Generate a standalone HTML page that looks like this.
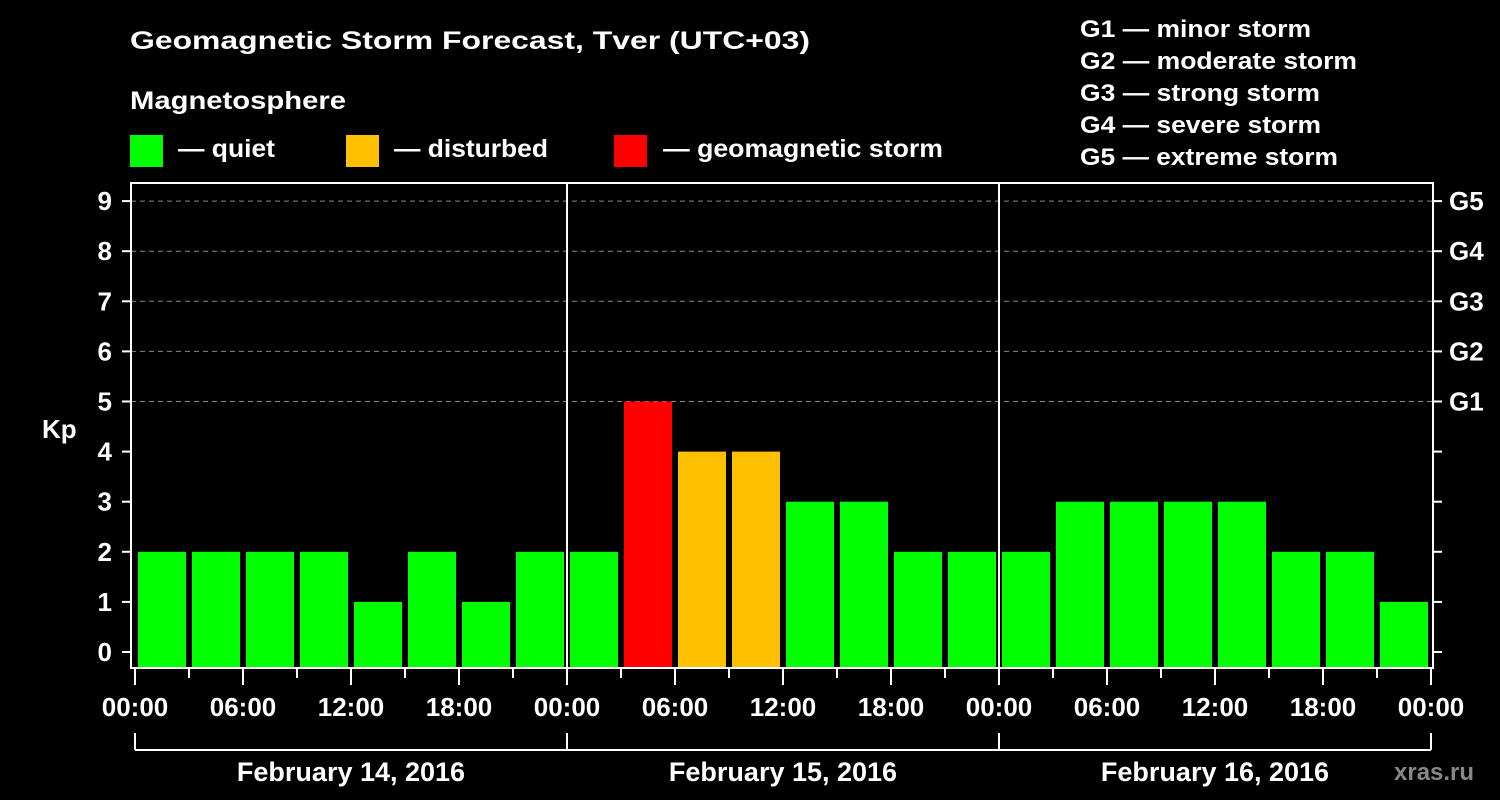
<!DOCTYPE html>
<html><head><meta charset="utf-8"><style>
html,body{margin:0;padding:0;background:#000;}
svg{display:block;font-family:"Liberation Sans",Arial,sans-serif;font-weight:bold;}
</style></head><body>
<svg id="chart" width="1500" height="800" viewBox="0 0 1500 800">
<rect width="1500" height="800" fill="#000"/>
<text x="130" y="49" fill="#fff" font-size="25" textLength="680" lengthAdjust="spacingAndGlyphs">Geomagnetic Storm Forecast, Tver (UTC+03)</text>
<text x="130" y="109" fill="#fff" font-size="25" textLength="216" lengthAdjust="spacingAndGlyphs">Magnetosphere</text>
<g><rect x="130" y="135" width="33" height="32" fill="#00ff00"/><text x="178" y="157" fill="#fff" font-size="25" textLength="97" lengthAdjust="spacingAndGlyphs">— quiet</text></g>
<g><rect x="346" y="135" width="33" height="32" fill="#ffc000"/><text x="394" y="157" fill="#fff" font-size="25" textLength="154" lengthAdjust="spacingAndGlyphs">— disturbed</text></g>
<g><rect x="614" y="135" width="33" height="32" fill="#ff0000"/><text x="663" y="157" fill="#fff" font-size="25" textLength="280" lengthAdjust="spacingAndGlyphs">— geomagnetic storm</text></g>
<g fill="#fff" font-size="24">
<text x="1080" y="37" textLength="231" lengthAdjust="spacingAndGlyphs">G1 — minor storm</text>
<text x="1080" y="69" textLength="277" lengthAdjust="spacingAndGlyphs">G2 — moderate storm</text>
<text x="1080" y="101" textLength="240" lengthAdjust="spacingAndGlyphs">G3 — strong storm</text>
<text x="1080" y="133" textLength="241" lengthAdjust="spacingAndGlyphs">G4 — severe storm</text>
<text x="1080" y="165" textLength="258" lengthAdjust="spacingAndGlyphs">G5 — extreme storm</text>
</g>
<g id="plot"></g>
<text x="42" y="438" fill="#fff" font-size="26">Kp</text>
<text x="1394" y="780" fill="#888" font-size="24">xras.ru</text>
</svg>
<script>
const kpValues = [2,2,2,2,1,2,1,2, 2,5,4,4,3,3,2,2, 2,3,3,3,3,2,2,1];
const dayLabels = ["February 14, 2016","February 15, 2016","February 16, 2016"];
const hourLabels = ["00:00","06:00","12:00","18:00"];
const yTicks = [0,1,2,3,4,5,6,7,8,9];
const gLabels = ["G1","G2","G3","G4","G5"];
const gLevels = [5,6,7,8,9];

const NS="http://www.w3.org/2000/svg";
const plot=document.getElementById('plot');
const X0=135, DAYW=432, BARSTEP=DAYW/8;
const xScale = h => X0 + h/24*DAYW;
const yScale = v => 652 - v*50.1;
const PT=183, PB=668, PL=131, PR=1433;
function mk(tag,attrs){const e=document.createElementNS(NS,tag);for(const k in attrs)e.setAttribute(k,attrs[k]);plot.appendChild(e);return e;}
function color(v){return v>=5?"#ff0000":(v>=4?"#ffc000":"#00ff00");}

yTicks.forEach(v=>{ if(v>=5){ const l=mk('line',{x1:PL,x2:PR,y1:yScale(v),y2:yScale(v),stroke:'#888','stroke-width':1,'stroke-dasharray':'5,4'});

}});

kpValues.forEach((v,i)=>{
  const x=xScale(i*3)+3;
  const r=mk('rect',{x:x,y:yScale(v),width:BARSTEP-6,height:PB-yScale(v),fill:color(v)});
  
  
});

const fr=mk('rect',{x:PL,y:PT,width:PR-PL,height:PB-PT,fill:'none',stroke:'#fff','stroke-width':2});


for(let d=1;d<dayLabels.length;d++){
  const l=mk('line',{x1:xScale(d*24),x2:xScale(d*24),y1:PT,y2:PB,stroke:'#fff','stroke-width':2});
  
  
}
yTicks.forEach(v=>{
  const y=yScale(v);
  mk('line',{x1:122,x2:PL,y1:y,y2:y,stroke:'#fff','stroke-width':2});
  mk('line',{x1:PR,x2:1442,y1:y,y2:y,stroke:'#fff','stroke-width':2});
  const t=mk('text',{x:112,y:y+9,fill:'#fff','font-size':26,'text-anchor':'end'});
  t.textContent=v;
  
  
});
gLevels.forEach((v,i)=>{
  const t=mk('text',{x:1449,y:yScale(v)+9,fill:'#fff','font-size':26});
  t.textContent=gLabels[i];
  
  
});
for(let h=0;h<=24*dayLabels.length;h+=3){
  const x=xScale(h), major=h%6===0;
  mk('line',{x1:x,x2:x,y1:PB,y2:major?685:678,stroke:'#fff','stroke-width':2});
}
for(let d=0;d<=dayLabels.length;d++){
  for(let k=0;k<hourLabels.length;k++){
    if(d===dayLabels.length && k>0) break;
    const t=mk('text',{x:xScale(d*24+k*6),y:716,fill:'#fff','font-size':26,'text-anchor':'middle'});
    t.textContent=hourLabels[k];
    
    
  }
}
const br=mk('line',{x1:xScale(0),x2:xScale(24*dayLabels.length),y1:750,y2:750,stroke:'#fff','stroke-width':2});


for(let d=0;d<=dayLabels.length;d++) mk('line',{x1:xScale(d*24),x2:xScale(d*24),y1:733,y2:750,stroke:'#fff','stroke-width':2});
dayLabels.forEach((s,d)=>{
  const t=mk('text',{x:xScale(d*24+12),y:781,fill:'#fff','font-size':27,'text-anchor':'middle'});
  t.textContent=s;
  
  
});
</script>
</body></html>
